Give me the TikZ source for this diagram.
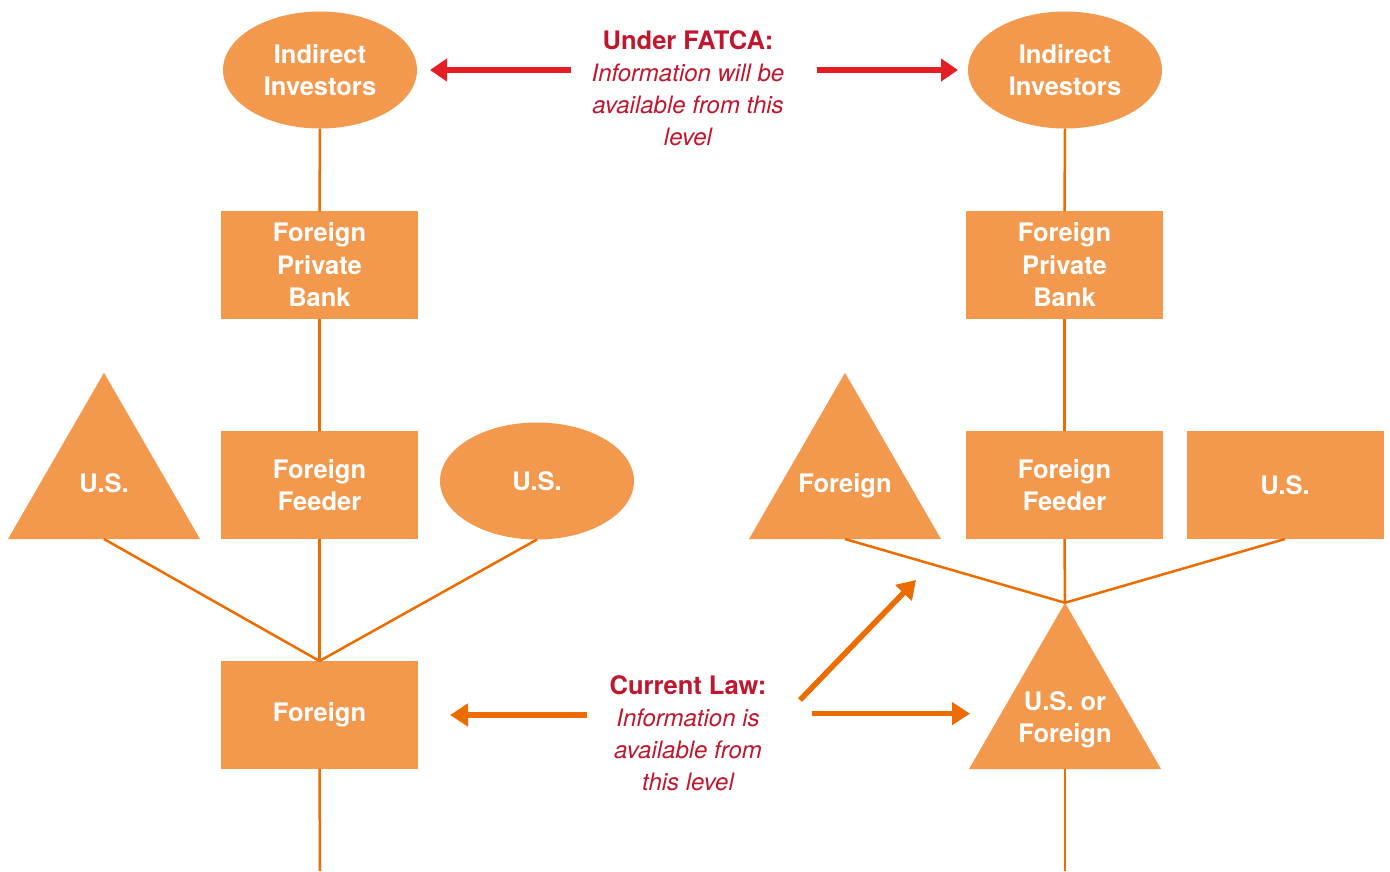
\documentclass[tikz,border=0pt]{standalone}
\usepackage{fontspec}
\setmainfont{TeX Gyre Heros}
\usetikzlibrary{shapes.geometric,arrows.meta}
\definecolor{boxorange}{RGB}{242,153,78}
\definecolor{lineorange}{RGB}{236,108,0}
\definecolor{arrowred}{RGB}{227,30,36}
\definecolor{textred}{RGB}{192,22,46}

\begin{document}
\begin{tikzpicture}[x=1pt,y=-1pt,
    every node/.style={font=\fontsize{25.5}{32.5}\selectfont\bfseries,text=white,align=center,inner sep=0pt,outer sep=0pt},
    blk/.style={fill=boxorange,minimum width=197pt,minimum height=108pt},
    oval/.style={ellipse,fill=boxorange,minimum width=194pt,minimum height=117pt},
    tri/.style={regular polygon,regular polygon sides=3,fill=boxorange,minimum size=221.7pt},
    link/.style={lineorange,line width=2.5pt},
    redarrow/.style={arrowred,line width=5.5pt,-{Triangle[length=17pt,width=22pt]}},
    orangearrow/.style={lineorange,line width=5.5pt,-{Triangle[length=18pt,width=22pt]}},
    note/.style={text=textred,font=\fontsize{24}{32}\selectfont\itshape}]
\useasboundingbox (0,0) rectangle (1390,871);
% left column: current law
\node[oval] (invL) at (320,70) {Indirect\\Investors};
\node[blk] (bankL) at (319.5,265) {Foreign\\Private\\Bank};
\node[blk] (feedL) at (319.5,485) {Foreign\\Feeder};
\node[tri,label={center:U.S.}] (usL) at (104,483.6) {};
\node[oval] (ovalL) at (537,481) {U.S.};
\node[blk] (forL) at (319.5,715) {Foreign};
\coordinate (endL) at (320,871);
% right column: under FATCA
\node[oval] (invR) at (1065,70) {Indirect\\Investors};
\node[blk] (bankR) at (1064.5,265) {Foreign\\Private\\Bank};
\node[blk] (feedR) at (1064.5,485) {Foreign\\Feeder};
\node[tri,label={[yshift=-2pt]center:Foreign}] (forR) at (845,483.6) {};
\node[blk] (usR) at (1285,485) {U.S.};
\node[tri,label={[yshift=-6pt]center:U.S. or\\Foreign}] (mixR) at (1065,713.6) {};
\coordinate (endR) at (1065,871);
% notes
\node[note] (fatca) at (688,88) {{\fontsize{25.5}{32}\selectfont\bfseries\upshape Under FATCA:}\\Information will be\\available from this\\level};
\node[note] (law) at (688,733) {{\fontsize{25.5}{32}\selectfont\bfseries\upshape Current Law:}\\Information is\\available from\\this level};
\coordinate (tailF) at (800,700);
\coordinate (hitF) at (916,580);
% links
\draw[link] (invL.south) -- (bankL.north);
\draw[link] (bankL.south) -- (feedL.north);
\draw[link] (feedL.south) -- (forL.north);
\draw[link] (forL.south) -- (endL);
\draw[link] (usL.side 2) -- (forL.north);
\draw[link] (ovalL.south) -- (forL.north);
\draw[link] (invR.south) -- (bankR.north);
\draw[link] (bankR.south) -- (feedR.north);
\draw[link] (feedR.south) -- (mixR.corner 1);
\draw[link] (mixR.side 2) -- (endR);
\draw[link] (forR.side 2) -- (mixR.corner 1);
\draw[link] (usR.south) -- (mixR.corner 1);
% arrows
\draw[redarrow,shorten <=21pt,shorten >=13pt] (fatca.west |- invL.east) -- (invL.east);
\draw[redarrow,shorten <=33pt,shorten >=10pt] (fatca.east |- invR.west) -- (invR.west);
\draw[orangearrow,shorten <=23pt,shorten >=32pt] (law.west |- forL.east) -- (forL.east);
\draw[orangearrow,shorten <=46pt,shorten >=31pt] (law.east |- mixR.center) -- (mixR.center -| mixR.west);
\draw[orangearrow] (tailF) -- (hitF);
\end{tikzpicture}
\end{document}
